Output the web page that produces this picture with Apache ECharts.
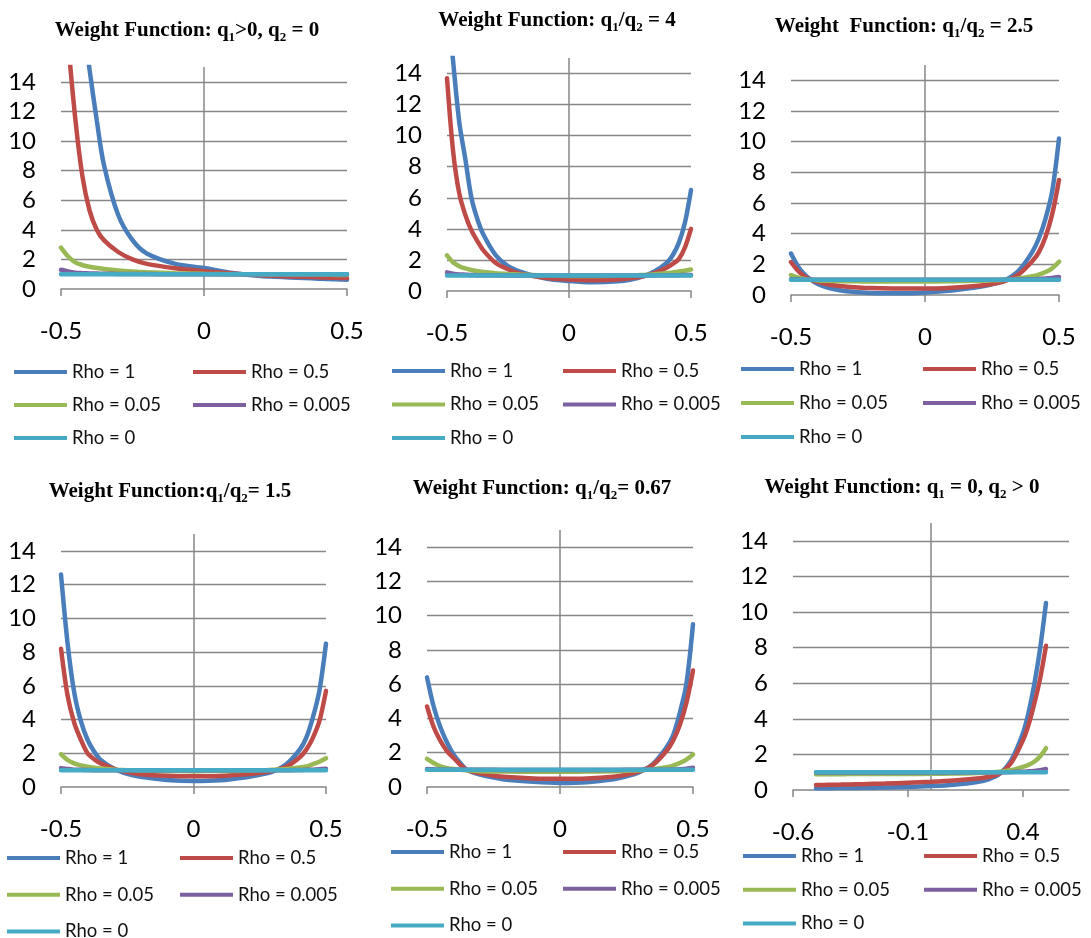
<!DOCTYPE html>
<html>
<head>
<meta charset="utf-8">
<title>Weight Function</title>
<script src="https://cdn.jsdelivr.net/npm/echarts@6/dist/echarts.min.js"></script>
<style>
  html, body { margin: 0; padding: 0; background: #fff; }
  #chart { width: 1091px; height: 938px; }
</style>
</head>
<body>
<div id="chart"></div>
<script>
const xs = [-0.5, -0.475, -0.45, -0.425, -0.4, -0.375, -0.35, -0.3, -0.25, -0.2, -0.1, 0, 0.1, 0.2, 0.25, 0.3, 0.35, 0.4, 0.425, 0.45, 0.475, 0.5]

const rhoNames = ['Rho = 1', 'Rho = 0.5', 'Rho = 0.05', 'Rho = 0.005', 'Rho = 0']
const rhoColors = ['#4a7ebb', '#be4b48', '#98b954', '#7d60a0', '#46aac5']

const titles = [
  'Weight Function: q{s|1}>0, q{s|2} = 0',
  'Weight Function: q{s|1}/q{s|2} = 4',
  'Weight  Function: q{s|1}/q{s|2} = 2.5',
  'Weight Function:q{s|1}/q{s|2}= 1.5',
  'Weight Function: q{s|1}/q{s|2}= 0.67',
  'Weight Function: q{s|1} = 0, q{s|2} > 0'
]

// tick labels
const yTicks = [0, 2, 4, 6, 8, 10, 12, 14]
const xTicks = [-0.5, 0, 0.5]
const xTicksLast = [-0.6, -0.1, 0.4]

// q1>0, q2 = 0 (values past 15 run off the top)
const p1Rho1 = [42, 31, 23.5, 18.5, 14.8, 11.4, 8.4, 5.0, 3.3, 2.4, 1.7, 1.42, 1.08, 0.88, 0.83, 0.78, 0.74, 0.70, 0.68, 0.66, 0.645, 0.63]
const p1Rho05 = [24, 16.8, 11.5, 7.6, 5.3, 4.0, 3.3, 2.5, 2.0, 1.7, 1.4, 1.2, 1.05, 0.93, 0.89, 0.85, 0.82, 0.79, 0.775, 0.76, 0.75, 0.74]
const p1Rho005 = [2.8, 2.2, 1.8, 1.62, 1.5, 1.42, 1.35, 1.25, 1.18, 1.13, 1.07, 1.03, 1.0, 0.98, 0.975, 0.97, 0.965, 0.96, 0.955, 0.955, 0.95, 0.95]
const p1Rho0005 = [1.3, 1.18, 1.1, 1.07, 1.05, 1.04, 1.03, 1.02, 1.015, 1.01, 1.0, 1.0, 1.0, 1.0, 1.0, 0.995, 0.995, 0.995, 0.995, 0.995, 0.995, 0.995]

// q1/q2 = 4
const p2Rho1 = [19, 14.8, 10.9, 8.5, 6.0, 4.6, 3.6, 2.3, 1.6, 1.25, 0.82, 0.64, 0.56, 0.62, 0.72, 0.92, 1.25, 1.8, 2.3, 3.1, 4.4, 6.5]
const p2Rho05 = [13.7, 9.0, 6.3, 4.9, 3.9, 3.2, 2.6, 1.8, 1.4, 1.12, 0.85, 0.74, 0.7, 0.74, 0.82, 0.93, 1.15, 1.5, 1.75, 2.05, 2.8, 4.0]
const p2Rho005 = [2.3, 1.85, 1.6, 1.45, 1.35, 1.28, 1.22, 1.15, 1.1, 1.06, 1.0, 0.97, 0.96, 0.98, 1.0, 1.03, 1.08, 1.15, 1.2, 1.25, 1.3, 1.38]
const p2Rho0005 = [1.2, 1.12, 1.07, 1.05, 1.03, 1.02, 1.015, 1.01, 1.0, 1.0, 1.0, 0.995, 0.995, 0.995, 1.0, 1.0, 1.005, 1.01, 1.015, 1.02, 1.025, 1.03]

// q1/q2 = 2.5
const p3Rho1 = [2.7, 1.9, 1.35, 0.98, 0.72, 0.55, 0.42, 0.26, 0.18, 0.13, 0.11, 0.17, 0.3, 0.52, 0.7, 0.98, 1.6, 2.8, 3.7, 5.0, 6.8, 10.2]
const p3Rho05 = [2.15, 1.6, 1.22, 1.0, 0.85, 0.74, 0.65, 0.55, 0.49, 0.45, 0.42, 0.42, 0.48, 0.6, 0.72, 0.92, 1.35, 2.2, 2.8, 3.8, 5.3, 7.5]
const p3Rho005 = [1.3, 1.15, 1.05, 0.99, 0.95, 0.93, 0.92, 0.9, 0.89, 0.88, 0.88, 0.88, 0.9, 0.93, 0.96, 1.0, 1.08, 1.22, 1.33, 1.5, 1.75, 2.17]
const p3Rho0005 = [1.03, 1.01, 1.0, 1.0, 0.995, 0.995, 0.99, 0.99, 0.99, 0.99, 0.99, 0.99, 0.99, 0.99, 1.0, 1.0, 1.01, 1.02, 1.04, 1.07, 1.11, 1.17]

// q1/q2 = 1.5
const p4Rho1 = [12.6, 8.5, 5.6, 3.9, 2.8, 2.1, 1.6, 1.08, 0.78, 0.6, 0.42, 0.36, 0.4, 0.58, 0.72, 0.92, 1.35, 2.2, 2.9, 4.1, 5.7, 8.5]
const p4Rho05 = [8.2, 5.4, 3.8, 2.8, 2.0, 1.65, 1.4, 1.08, 0.88, 0.76, 0.66, 0.63, 0.65, 0.75, 0.84, 0.96, 1.2, 1.75, 2.2, 2.9, 3.9, 5.7]
const p4Rho005 = [1.95, 1.6, 1.4, 1.28, 1.2, 1.14, 1.1, 1.03, 1.0, 0.97, 0.95, 0.94, 0.95, 0.96, 0.98, 1.02, 1.07, 1.15, 1.22, 1.35, 1.5, 1.7]
const p4Rho0005 = [1.12, 1.07, 1.03, 1.02, 1.01, 1.0, 1.0, 1.0, 1.0, 1.0, 1.0, 1.0, 1.0, 1.0, 1.0, 1.0, 1.0, 1.01, 1.02, 1.03, 1.05, 1.08]

// q1/q2 = 0.67
const p5Rho1 = [6.4, 4.7, 3.5, 2.6, 1.9, 1.4, 1.0, 0.72, 0.55, 0.42, 0.3, 0.24, 0.28, 0.45, 0.62, 0.88, 1.35, 2.3, 3.0, 4.3, 6.0, 9.5]
const p5Rho05 = [4.7, 3.5, 2.7, 2.1, 1.7, 1.3, 1.0, 0.8, 0.66, 0.58, 0.5, 0.48, 0.5, 0.6, 0.72, 0.92, 1.3, 2.1, 2.7, 3.6, 4.9, 6.8]
const p5Rho005 = [1.64, 1.4, 1.2, 1.1, 1.05, 1.0, 0.97, 0.92, 0.91, 0.9, 0.89, 0.89, 0.9, 0.92, 0.95, 0.98, 1.04, 1.15, 1.25, 1.4, 1.6, 1.9]
const p5Rho0005 = [1.05, 1.03, 1.01, 1.0, 1.0, 1.0, 1.0, 1.0, 1.0, 0.995, 0.995, 0.995, 0.995, 0.995, 1.0, 1.0, 1.0, 1.01, 1.02, 1.04, 1.07, 1.12]

// q1 = 0, q2 > 0
const p6Rho1 = [0.1, 0.1, 0.1, 0.105, 0.11, 0.11, 0.115, 0.12, 0.13, 0.14, 0.17, 0.22, 0.3, 0.45, 0.6, 0.92, 1.7, 3.2, 4.4, 6.0, 8.0, 10.5]
const p6Rho05 = [0.28, 0.285, 0.29, 0.295, 0.3, 0.31, 0.315, 0.33, 0.345, 0.36, 0.41, 0.46, 0.53, 0.64, 0.73, 0.93, 1.55, 2.8, 3.7, 4.9, 6.3, 8.1]
const p6Rho005 = [0.89, 0.89, 0.89, 0.89, 0.89, 0.89, 0.9, 0.9, 0.9, 0.9, 0.9, 0.91, 0.92, 0.95, 0.98, 1.02, 1.12, 1.3, 1.42, 1.6, 1.9, 2.35]
const p6Rho0005 = [0.99, 0.99, 0.99, 0.99, 0.99, 0.99, 0.99, 0.99, 0.99, 0.99, 0.99, 0.99, 0.99, 0.995, 1.0, 1.0, 1.01, 1.03, 1.05, 1.07, 1.11, 1.18]

// Rho = 0 is flat at 1 in every panel
const rhoZero = [1, 1, 1, 1, 1, 1, 1, 1, 1, 1, 1, 1, 1, 1, 1, 1, 1, 1, 1, 1, 1, 1]

const panelSeries = [
  [p1Rho1, p1Rho05, p1Rho005, p1Rho0005, rhoZero],
  [p2Rho1, p2Rho05, p2Rho005, p2Rho0005, rhoZero],
  [p3Rho1, p3Rho05, p3Rho005, p3Rho0005, rhoZero],
  [p4Rho1, p4Rho05, p4Rho005, p4Rho0005, rhoZero],
  [p5Rho1, p5Rho05, p5Rho005, p5Rho0005, rhoZero],
  [p6Rho1, p6Rho05, p6Rho005, p6Rho0005, rhoZero]
]

// 版面位置 (plot box, title centre, legend columns)
const boxes = [
  { left: 61, top: 67, width: 286, height: 222 },
  { left: 447, top: 58, width: 244, height: 233 },
  { left: 791, top: 65, width: 268, height: 230 },
  { left: 61, top: 534, width: 265, height: 253 },
  { left: 427, top: 530, width: 266, height: 257 },
  { left: 793, top: 523, width: 276, height: 267 }
]
const titlePos = [[187, 31], [557, 21], [904, 27], [170, 492], [542, 489], [902, 488]]
const legendPos = [
  { c1: 14, c2: 193, y: 372, gap: 33 },
  { c1: 392, c2: 563, y: 371, gap: 33.5 },
  { c1: 741, c2: 923, y: 369, gap: 34 },
  { c1: 7, c2: 180, y: 858, gap: 36.7 },
  { c1: 391, c2: 563, y: 852, gap: 36.7 },
  { c1: 743, c2: 924, y: 856, gap: 33.7 }
]

const axisGray = '#878787'
const font = 'Lato, "Open Sans", sans-serif'

const chart = echarts.init(document.getElementById('chart'))

const option = {
  animation: false,
  backgroundColor: '#fff',
  title: [],
  legend: [],
  grid: [],
  xAxis: [],
  yAxis: [],
  series: []
}

boxes.forEach((box, i) => {
  option.grid.push(Object.assign({ containLabel: false }, box))

  option.title.push({
    text: titles[i],
    left: titlePos[i][0],
    top: titlePos[i][1] - 13,
    textAlign: 'center',
    padding: 0,
    textStyle: {
      fontFamily: '"Liberation Serif", "Times New Roman", serif',
      fontWeight: 'bold',
      fontSize: 21,
      lineHeight: 26,
      color: '#000',
      rich: {
        s: {
          fontFamily: '"Liberation Serif", "Times New Roman", serif',
          fontWeight: 'bold',
          fontSize: 13,
          lineHeight: 12,
          verticalAlign: 'bottom',
          color: '#000'
        }
      }
    }
  })

  const isLast = i === 5
  const ticks = isLast ? xTicksLast : xTicks
  option.xAxis.push({
    type: 'value',
    gridIndex: i,
    min: isLast ? -0.6 : -0.5,
    max: isLast ? 0.6 : 0.5,
    axisLine: { show: true, lineStyle: { color: axisGray, width: 1.5 } },
    axisTick: { show: true, length: 7, customValues: ticks, lineStyle: { color: axisGray, width: 1.5 } },
    axisLabel: { customValues: ticks, margin: 30, fontFamily: font, fontSize: 24, color: '#000' },
    splitLine: { show: false }
  })

  option.yAxis.push({
    type: 'value',
    gridIndex: i,
    min: 0,
    max: 15,
    interval: 2,
    axisLine: { show: false },
    axisTick: { show: false },
    axisLabel: { customValues: yTicks, margin: 25, fontFamily: font, fontSize: 24, color: '#000' },
    splitLine: {
      show: true,
      showMinLine: false,
      showMaxLine: false,
      lineStyle: { color: axisGray, width: 1.3 }
    }
  })

  panelSeries[i].forEach((ys, k) => {
    const s = {
      name: rhoNames[k],
      type: 'line',
      xAxisIndex: i,
      yAxisIndex: i,
      data: xs.map((x, j) => [x, ys[j]]),
      showSymbol: false,
      smooth: 0.3,
      clip: true,
      silent: true,
      lineStyle: { width: 4.5, color: rhoColors[k], cap: 'round' },
      itemStyle: { color: rhoColors[k] }
    }
    // the vertical value axis of the original crosses at x = 0
    if (k === 0) {
      s.markLine = {
        silent: true,
        z: 1,
        symbol: 'none',
        label: { show: false },
        lineStyle: { color: axisGray, width: 1.5, type: 'solid' },
        data: [{ xAxis: 0 }]
      }
    }
    option.series.push(s)
  })

  const lp = legendPos[i]
  const legendBase = {
    orient: 'vertical',
    top: lp.y - 10,
    height: 140,
    padding: 0,
    icon: 'rect',
    itemWidth: 53,
    itemHeight: 4,
    itemGap: lp.gap - 20,
    selectedMode: false,
    textStyle: { fontFamily: font, fontSize: 18.5, lineHeight: 20, color: '#111' }
  }
  option.legend.push(Object.assign({}, legendBase, { left: lp.c1, data: [rhoNames[0], rhoNames[2], rhoNames[4]] }))
  option.legend.push(Object.assign({}, legendBase, { left: lp.c2, data: [rhoNames[1], rhoNames[3]] }))
})

chart.setOption(option)
</script>
</body>
</html>
